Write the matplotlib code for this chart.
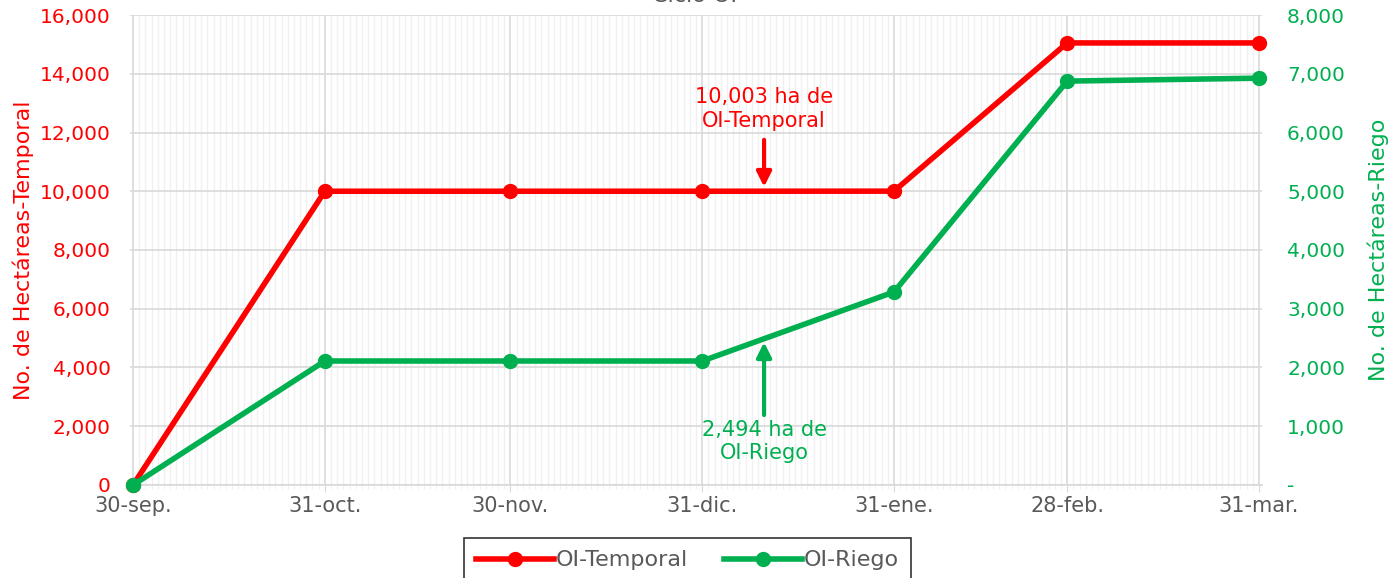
import pandas as pd
import matplotlib
matplotlib.use("Agg")
import matplotlib.pyplot as plt
import matplotlib.dates as mdates
from matplotlib.ticker import FuncFormatter

plt.rcParams['font.family'] = ['DejaVu Sans']

# Data
fechas = ['2022-09-30', '2022-10-31', '2022-11-30', '2022-12-31',
          '2023-01-31', '2023-02-28', '2023-03-31']
etiquetas = ['30-sep.', '31-oct.', '30-nov.', '31-dic.', '31-ene.', '28-feb.', '31-mar.']
temporal = [0, 10000, 10000, 10000, 10003, 15050, 15050]
riego = [0, 2110, 2110, 2110, 3285, 6875, 6925]

anot_fecha = '2023-01-10'
anot_temporal = "10,003 ha de\nOI-Temporal"
anot_riego = "2,494 ha de\nOI-Riego"

RED = "#FF0000"
GREEN = "#00B050"
GREY = "#595959"

x = pd.to_datetime(fechas)
xa = pd.Timestamp(anot_fecha)

fig = plt.figure(figsize=(13.89, 5.78), dpi=100)
ax = fig.add_axes([0.0936, 0.161, 0.815, 0.813])
ax2 = ax.twinx()

ax.set_xlim(x[0] - pd.Timedelta(hours=12), x[-1] + pd.Timedelta(hours=12))
ax.set_ylim(0, 16000)
ax2.set_ylim(0, 8000)

# grid: daily minor, monthly major
ax.xaxis.set_minor_locator(mdates.DayLocator())
ax.set_xticks(x)
ax.set_xticklabels(etiquetas)
ax.grid(which='minor', axis='x', color='#f0f0f0', lw=1)
ax.grid(which='major', axis='x', color='#d9d9d9', lw=1.2)
ax.set_yticks(range(0, 16001, 2000))
ax.grid(which='major', axis='y', color='#d9d9d9', lw=1.2)
ax.set_axisbelow(True)

for a in (ax, ax2):
    for s in a.spines.values():
        s.set_visible(False)
ax.spines['bottom'].set_visible(True)
ax.spines['bottom'].set_color('#d9d9d9')
ax.spines['bottom'].set_linewidth(1.2)

ax.tick_params(axis='x', which='major', length=5, color='#d9d9d9', labelsize=15,
               labelcolor=GREY, pad=3)
ax.tick_params(axis='x', which='minor', length=3, color='#eeeeee')
ax.tick_params(axis='y', length=0, labelsize=14.5, labelcolor=RED, pad=14)
ax2.tick_params(axis='y', length=0, labelsize=14.5, labelcolor=GREEN, pad=18)

ax.yaxis.set_major_formatter(FuncFormatter(lambda v, p: f"{v:,.0f}"))
ax2.set_yticks(range(0, 8001, 1000))
ax2.yaxis.set_major_formatter(FuncFormatter(lambda v, p: "-" if v == 0 else f"{v:,.0f}"))

ax.set_ylabel("No. de Hectáreas-Temporal", color=RED, fontsize=16, labelpad=4)
ax2.set_ylabel("No. de Hectáreas-Riego", color=GREEN, fontsize=16, labelpad=16)

l1, = ax.plot(x, temporal, color=RED, lw=4, marker='o', ms=10, label="OI-Temporal",
              clip_on=False, zorder=5)
l2, = ax2.plot(x, riego, color=GREEN, lw=4, marker='o', ms=10, label="OI-Riego",
               clip_on=False, zorder=5)

# annotations
ax.annotate('', xy=(xa, 10150), xytext=(xa, 11750),
            arrowprops=dict(arrowstyle='-|>', color=RED, lw=3, mutation_scale=22,
                            shrinkA=0, shrinkB=0))
ax.text(xa, 12800, anot_temporal, color=RED, fontsize=15, ha='center', va='center',
        linespacing=1.2)
ax2.annotate('', xy=(xa, 2430), xytext=(xa, 1190),
             arrowprops=dict(arrowstyle='-|>', color=GREEN, lw=3, mutation_scale=22,
                             shrinkA=0, shrinkB=0))
ax2.text(xa, 735, anot_riego, color=GREEN, fontsize=15, ha='center', va='center',
         linespacing=1.2)

fig.text(0.5, 0.996, "Ciclo OI", ha='center', va='baseline', fontsize=16, color=GREY)

leg = fig.legend(handles=[l1, l2], loc='upper center', bbox_to_anchor=(0.495, 0.069),
                 ncol=2, fontsize=16, frameon=True, fancybox=False, edgecolor='black',
                 handlelength=3.5, handletextpad=0.1, columnspacing=1.6, borderpad=0.55,
                 borderaxespad=0, labelcolor=GREY)
leg.get_frame().set_linewidth(1.2)

fig.savefig("out.png", dpi=100)
